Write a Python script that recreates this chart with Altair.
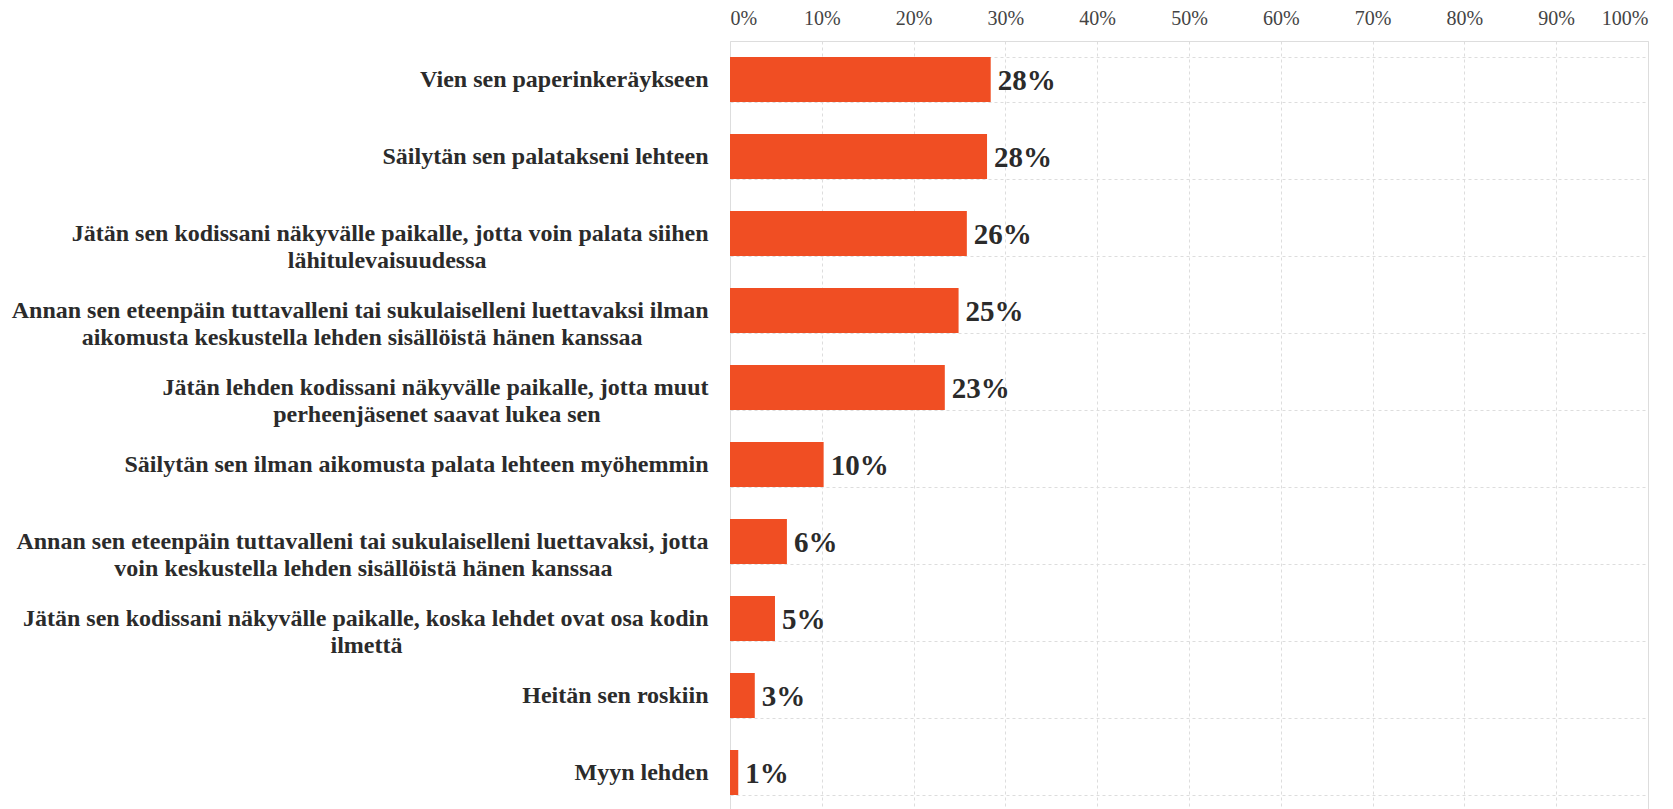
import altair as alt
import pandas as pd

# --- data -------------------------------------------------------------
line1 = [
    "Vien sen paperinkeräykseen",
    "Säilytän sen palatakseni lehteen",
    "Jätän sen kodissani näkyvälle paikalle, jotta voin palata siihen",
    "Annan sen eteenpäin tuttavalleni tai sukulaiselleni luettavaksi ilman",
    "Jätän lehden kodissani näkyvälle paikalle, jotta muut",
    "Säilytän sen ilman aikomusta palata lehteen myöhemmin",
    "Annan sen eteenpäin tuttavalleni tai sukulaiselleni luettavaksi, jotta",
    "Jätän sen kodissani näkyvälle paikalle, koska lehdet ovat osa kodin",
    "Heitän sen roskiin",
    "Myyn lehden",
]
line2 = [
    "",
    "",
    "lähitulevaisuudessa",
    "aikomusta keskustella lehden sisällöistä hänen kanssaa",
    "perheenjäsenet saavat lukea sen",
    "",
    "voin keskustella lehden sisällöistä hänen kanssaa",
    "ilmettä",
    "",
    "",
]
values = [0.284, 0.280, 0.258, 0.249, 0.234, 0.102, 0.062, 0.049, 0.027, 0.009]
x_ticks = [0, 0.1, 0.2, 0.3, 0.4, 0.5, 0.6, 0.7, 0.8, 0.9, 1.0]

# --- approximate Times Bold advance widths (per 1000 em) to centre 2nd line
W = {" ": 250, ",": 250, ".": 250, "a": 500, "b": 556, "c": 444, "d": 556, "e": 444,
     "f": 333, "g": 500, "h": 556, "i": 278, "j": 333, "k": 556, "l": 278, "m": 833,
     "n": 556, "o": 500, "p": 556, "q": 556, "r": 444, "s": 389, "t": 333, "u": 556,
     "v": 500, "w": 722, "x": 500, "y": 500, "z": 444, "ä": 500, "ö": 500,
     "A": 722, "J": 500, "S": 556, "V": 722, "H": 778, "M": 944}


def tw(s):
    return sum(W.get(c, 500) for c in s)


labels = []
for a, b in zip(line1, line2):
    if b:
        n = max(0, round((tw(a) - tw(b)) / 2 / 250))
        labels.append(a + "\n" + b + "\u00a0" * n + "\u2060")
    else:
        labels.append(a)

df = pd.DataFrame({"label": labels, "value": values})
order = labels

FONT = "Liberation Serif"

y_enc = alt.Y(
    "label:N",
    sort=order,
    title=None,
    scale=alt.Scale(paddingInner=0.415, paddingOuter=0.2075),
    axis=alt.Axis(
        labelExpr="split(datum.label, '\\n')",
        labelFont=FONT,
        labelFontWeight="bold",
        labelFontSize=24,
        labelLineHeight=27,
        labelColor="#2b2b2b",
        labelPadding=22,
        labelLimit=2000,
        ticks=False,
        tickSize=0,
        domain=False,
        grid=True,
        tickBand="extent",
        gridColor="#dddddd",
        gridDash=[3, 3],
        gridWidth=1,
    ),
)

x_enc = alt.X(
    "value:Q",
    title=None,
    scale=alt.Scale(domain=[0, 1], nice=False),
    axis=alt.Axis(
        orient="top",
        values=x_ticks,
        format=".0%",
        labelFont=FONT,
        labelFontSize=20,
        labelColor="#444444",
        labelPadding=13,
        ticks=False,
        tickSize=0,
        domain=False,
        grid=True,
        gridColor="#dddddd",
        gridDash=[3, 3],
        gridWidth=1,
    ),
)

bars = alt.Chart(df).mark_bar(color="#F04E23").encode(x=x_enc, y=y_enc)

texts = alt.Chart(df).mark_text(
    align="left",
    baseline="middle",
    dx=7,
    dy=1,
    font=FONT,
    fontWeight="bold",
    fontSize=29,
    color="#2b2b2b",
).encode(
    x=alt.X("value:Q"),
    y=alt.Y("label:N", sort=order),
    text=alt.Text("value:Q", format=".0%"),
)

chart = (
    alt.layer(bars, texts)
    .properties(
        width=918,
        height=770,
        padding={"top": 0, "left": 3, "right": 5, "bottom": 5},
    )
    .configure_view(stroke=None)
    .configure(background="white")
)

chart.save("out.html", embed_options={"renderer": "svg", "actions": False})
